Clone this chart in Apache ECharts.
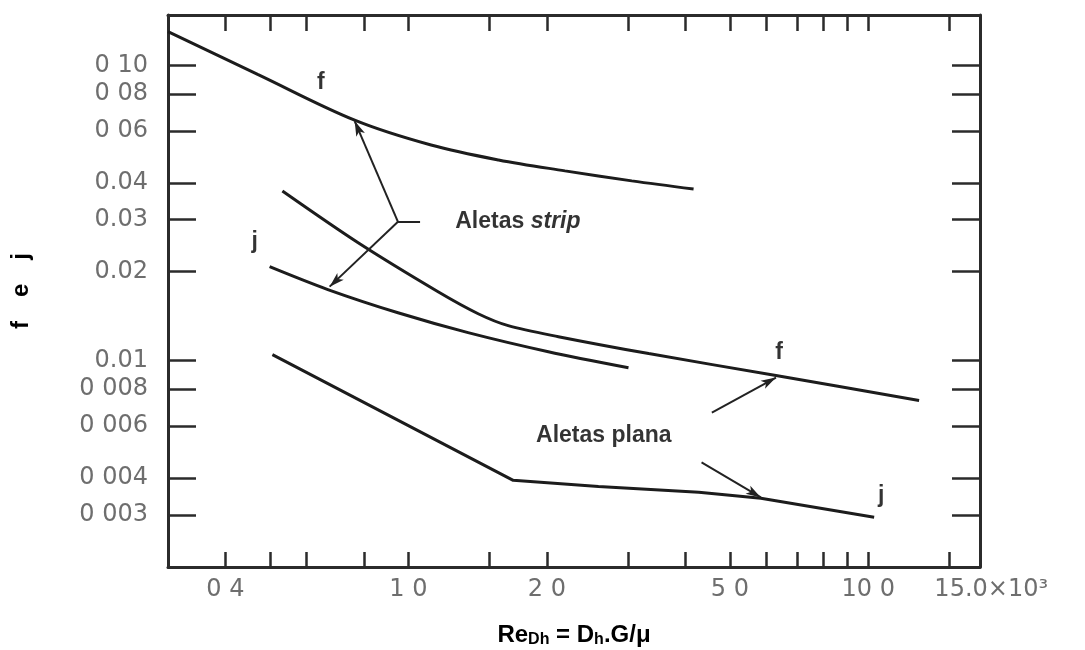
<!DOCTYPE html>
<html>
<head>
<meta charset="utf-8">
<script src="https://cdn.jsdelivr.net/npm/echarts@6/dist/echarts.min.js"></script>
<style>
  html, body { margin: 0; padding: 0; background: #fff; }
  #chart { width: 1085px; height: 650px; }
</style>
</head>
<body>
<div id="chart"></div>
<script>
// Re (x 10^3) on x, f and j on y, both log
const xTickVals = [0.4, 0.5, 0.6, 0.8, 1, 1.5, 2, 3, 4, 5, 6, 7, 8, 9, 10, 15];
const xLabelVals = [0.4, 1, 2, 5, 10, 15];
const xLabelText = ['0 4', '1 0', '2 0', '5 0', '10 0', '15.0×10³'];

const yTickVals = [0.003, 0.004, 0.006, 0.008, 0.01, 0.02, 0.03, 0.04, 0.06, 0.08, 0.1];
const yLabelText = ['0 003', '0 004', '0 006', '0 008', '0.01', '0.02', '0.03', '0.04', '0 06', '0 08', '0 10'];

// curves [Re/1000, value]
const stripF = [[0.30, 0.130], [0.47, 0.0932], [0.764, 0.0652], [1.12, 0.0537], [1.57, 0.0478],
  [2.19, 0.0439], [3.06, 0.0406], [4.17, 0.0381]];
const stripJ = [[0.499, 0.0208], [0.668, 0.0174], [0.949, 0.01452], [1.348, 0.01244],
  [2.015, 0.01072], [3.01, 0.00946]];
const planaF = [[0.532, 0.0375], [0.776, 0.0251], [1.16, 0.0171], [1.418, 0.01441], [1.648, 0.01313],
  [2.119, 0.01205], [3.33, 0.01056], [6.30, 0.0089], [12.9, 0.00733]];
const planaJ = [[0.506, 0.01047], [1.69, 0.00393], [2.59, 0.00375], [4.28, 0.00358],
  [5.84, 0.00342], [10.3, 0.00295]];

// annotation texts and arrows (data coords)
const notes = [
  { name: '{b|f}', at: [0.645, 0.0876] },
  { name: '{b|j}', at: [0.463, 0.0252] },
  { name: '{b|Aletas }{i|strip}', at: [1.73, 0.0295] },
  { name: '{b|f}', at: [6.40, 0.01065] },
  { name: '{b|Aletas plana}', at: [2.66, 0.00558] },
  { name: '{b|j}', at: [10.67, 0.00348] }
];
const ticksOnly = [[[1.06, 0.0295], [0.949, 0.0295]]];
const arrows = [
  [[0.949, 0.0295], [0.764, 0.0647]],
  [[0.949, 0.0295], [0.674, 0.0178]],
  [[4.57, 0.00667], [6.30, 0.00876]],
  [[4.34, 0.00452], [5.84, 0.00344]]
];

function nearest(list, v) {
  var best = 0;
  for (var i = 1; i < list.length; i++) {
    if (Math.abs(Math.log(list[i] / v)) < Math.abs(Math.log(list[best] / v))) best = i;
  }
  return best;
}

var chart = echarts.init(document.getElementById('chart'));

var frame = { show: true, lineStyle: { color: '#2b2b2b', width: 3 } };
var tickFont = { fontFamily: 'DejaVu Sans', fontSize: 24, color: '#6e6e6e' };
var bold = { fontFamily: 'Liberation Sans', fontWeight: 'bold', color: '#000', textBorderWidth: 0 };

var lineSeries = function (name, data, smooth) {
  return {
    name: name, type: 'line', data: data, symbol: 'none', smooth: smooth,
    lineStyle: { color: '#1c1c1c', width: 3 }, silent: true
  };
};

var option = {
  animation: false,
  backgroundColor: '#fff',
  grid: { left: 168, right: 105, top: 15, bottom: 83, outerBoundsMode: 'none' },
  xAxis: [{
    type: 'log', min: 0.3, max: 17.5, position: 'bottom',
    axisLine: frame,
    axisTick: { inside: true, length: 15, customValues: xTickVals, lineStyle: { color: '#2b2b2b', width: 2.5 } },
    axisLabel: Object.assign({
      margin: 11,
      customValues: xLabelVals,
      formatter: function (v) {
        var i = nearest(xLabelVals, v);
        return i === xLabelVals.length - 1 ? '{w|' + xLabelText[i] + '}' : xLabelText[i];
      },
      rich: { w: Object.assign({ padding: [0, 0, 0, 84] }, tickFont) }
    }, tickFont),
    splitLine: { show: false },
    name: '{n|Re}{s|Dh}{n| = D}{s|h}{n|.G/μ}',
    nameLocation: 'middle', nameGap: 56,
    nameTextStyle: {
      rich: {
        n: Object.assign({ fontSize: 24 }, bold),
        s: Object.assign({ fontSize: 16, verticalAlign: 'bottom', padding: [9, 0, 0, 0] }, bold)
      }
    }
  }, {
    type: 'log', min: 0.3, max: 17.5, position: 'top',
    axisLine: frame,
    axisTick: { inside: true, length: 16, customValues: xTickVals, lineStyle: { color: '#2b2b2b', width: 2.5 } },
    axisLabel: { show: false },
    splitLine: { show: false }
  }],
  yAxis: [{
    type: 'log', min: 0.002, max: 0.148, position: 'left',
    axisLine: frame,
    axisTick: { inside: true, length: 28, customValues: yTickVals, lineStyle: { color: '#2b2b2b', width: 2.5 } },
    axisLabel: Object.assign({
      margin: 20,
      customValues: yTickVals,
      formatter: function (v) { return yLabelText[nearest(yTickVals, v)]; }
    }, tickFont),
    splitLine: { show: false },
    name: '{t|f}{g| }{t|e}{g| }{t|j}',
    nameLocation: 'middle', nameGap: 135, nameRotate: 90,
    nameTextStyle: {
      rich: {
        t: Object.assign({ fontSize: 24 }, bold),
        g: { width: 24, fontSize: 24 }
      }
    }
  }, {
    type: 'log', min: 0.002, max: 0.148, position: 'right',
    axisLine: frame,
    axisTick: { inside: true, length: 28, customValues: yTickVals, lineStyle: { color: '#2b2b2b', width: 2.5 } },
    axisLabel: { show: false },
    splitLine: { show: false }
  }],
  series: [
    lineSeries('f strip', stripF, 0.35),
    lineSeries('j strip', stripJ, 0.3),
    lineSeries('f plana', planaF, 0.3),
    lineSeries('j plana', planaJ, false),
    {
      name: 'notes', type: 'scatter', symbolSize: 0, silent: true,
      itemStyle: { color: '#000' },
      data: notes.map(function (n) { return { name: n.name, value: n.at }; }),
      label: {
        show: true, position: 'inside', color: '#000', textBorderWidth: 0,
        formatter: function (p) { return p.name; },
        rich: {
          b: Object.assign({ fontSize: 23 }, bold),
          i: Object.assign({ fontSize: 23, fontStyle: 'italic' }, bold)
        }
      },
      markLine: {
        silent: true, animation: false,
        label: { show: false },
        lineStyle: { color: '#222', width: 2, type: 'solid' },
        symbol: ['none', 'arrow'], symbolSize: [7, 15],
        data: arrows.map(function (a) { return [{ coord: a[0] }, { coord: a[1] }]; })
          .concat(ticksOnly.map(function (a) {
            return [{ coord: a[0], symbol: 'none' }, { coord: a[1], symbol: 'none' }];
          }))
      }
    }
  ]
};

chart.setOption(option);
</script>
</body>
</html>
